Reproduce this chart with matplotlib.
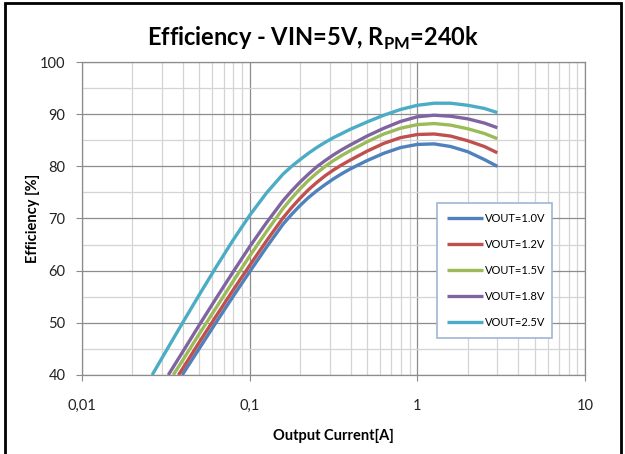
import matplotlib
matplotlib.use("Agg")
import matplotlib.pyplot as plt
from matplotlib.ticker import FixedLocator, LogLocator, NullFormatter, FixedFormatter
from matplotlib.patches import Rectangle

plt.rcParams['font.family'] = ['Lato', 'DejaVu Sans']

labels = ["VOUT=1.0V", "VOUT=1.2V", "VOUT=1.5V", "VOUT=1.8V", "VOUT=2.5V"]
colors = ["#4F81BD", "#C0504D", "#9BBB59", "#8064A2", "#4BACC6"]

# common current grid (A) after each series' own starting point
grid = [0.0501, 0.0631, 0.0794, 0.1, 0.126, 0.158, 0.178, 0.2, 0.224, 0.251, 0.282, 0.316,
        0.355, 0.398, 0.501, 0.631, 0.794, 1.0, 1.26, 1.58, 2.0, 2.51, 3.0]

i_10 = [0.0396] + grid
e_10 = [40, 45.1, 50.1, 55.0, 59.8, 64.5, 68.9, 70.8, 72.5, 74.0, 75.3, 76.5, 77.6,
        78.6, 79.5, 81.1, 82.5, 83.6, 84.2, 84.3, 83.8, 82.8, 81.3, 80.0]

i_12 = [0.0376, 0.0398] + grid
e_12 = [40, 41.2, 46.3, 51.3, 56.2, 61.0, 65.7, 70.1, 72.1, 73.9, 75.5, 76.9, 78.2, 79.3,
        80.3, 81.2, 82.9, 84.4, 85.5, 86.1, 86.2, 85.8, 84.9, 83.8, 82.6]

i_15 = [0.035, 0.0398] + grid
e_15 = [40, 42.8, 47.9, 52.9, 57.9, 62.8, 67.5, 71.9, 73.9, 75.7, 77.3, 78.7, 80.0, 81.1,
        82.1, 83.0, 84.7, 86.2, 87.3, 88.0, 88.2, 87.9, 87.2, 86.3, 85.3]

i_18 = [0.0327, 0.0398] + grid
e_18 = [40, 44.4, 49.6, 54.7, 59.7, 64.6, 69.2, 73.4, 75.3, 77.0, 78.5, 79.9, 81.1, 82.2,
        83.2, 84.1, 85.8, 87.3, 88.6, 89.5, 89.8, 89.6, 89.1, 88.3, 87.4]

i_25 = [0.0262, 0.0316, 0.0398] + grid
e_25 = [40, 44.5, 50.0, 55.4, 60.7, 65.8, 70.6, 74.9, 78.5, 80.0, 81.3, 82.5, 83.6, 84.6,
        85.5, 86.3, 87.1, 88.5, 89.8, 90.9, 91.7, 92.1, 92.1, 91.7, 91.1, 90.3]

currents = [i_10, i_12, i_15, i_18, i_25]
effs = [e_10, e_12, e_15, e_18, e_25]

x_ticks = [0.01, 0.1, 1, 10]
x_tick_labels = ["0,01", "0,1", "1", "10"]
y_ticks = [40, 50, 60, 70, 80, 90, 100]

fig = plt.figure(figsize=(6.25, 4.54), dpi=100)
ax = fig.add_axes([82/625, 1-375/454, (585-82)/625, (375-62)/454])

for x, y, c, lab in zip(currents, effs, colors, labels):
    ax.plot(x, y, color=c, lw=2.4, label=lab, solid_capstyle='butt', solid_joinstyle='round', zorder=3)

ax.set_xscale('log')
ax.set_xlim(0.01, 10)
ax.set_ylim(40, 100)
ax.xaxis.set_major_locator(FixedLocator(x_ticks))
ax.xaxis.set_major_formatter(FixedFormatter(x_tick_labels))
ax.xaxis.set_minor_locator(LogLocator(base=10, subs=range(2, 10)))
ax.xaxis.set_minor_formatter(NullFormatter())
ax.yaxis.set_major_locator(FixedLocator(y_ticks))
ax.yaxis.set_minor_locator(FixedLocator([45, 55, 65, 75, 85, 95]))

ax.grid(which='major', color='#8c8c8c', lw=0.9, zorder=0)
ax.grid(which='minor', color='#d4d4d4', lw=0.9, zorder=0)
ax.set_axisbelow(True)
for s in ax.spines.values():
    s.set_color('#8c8c8c')
    s.set_linewidth(0.9)
ax.tick_params(which='major', length=4, color='#8c8c8c', labelsize=10.5, labelcolor='#222222')
ax.tick_params(axis='y', pad=8)
ax.tick_params(axis='x', pad=13)
ax.tick_params(which='minor', length=0)

fig.text(313/625, 1-38/454, "Efficiency - VIN=5V, R$_{\\mathregular{PM}}$=240k", fontsize=17,
         fontweight='bold', ha='center', va='center')
ax.set_xlabel("Output Current[A]", fontsize=10.5, fontweight='bold', labelpad=12)
ax.set_ylabel("Efficiency [%]", fontsize=10.5, fontweight='bold')
ax.yaxis.set_label_coords((40-82)/503, 0.5)

leg = ax.legend(loc='lower left', bbox_to_anchor=(0.706, 0.118, 0.228, 0.432), mode='expand',
                fontsize=8, frameon=True, fancybox=False, labelspacing=1.35, handlelength=3.2,
                handletextpad=0.2, borderpad=0.9, borderaxespad=0)
leg.get_frame().set_edgecolor('#9fb6d6')
leg.get_frame().set_linewidth(1.2)
leg.get_frame().set_alpha(1)

fig.patches.append(Rectangle((5/625, -0.05), (621-5)/625, 1.05 - 3/454, transform=fig.transFigure,
                             fill=False, edgecolor='black', lw=2))

fig.savefig("out.png", dpi=100)
